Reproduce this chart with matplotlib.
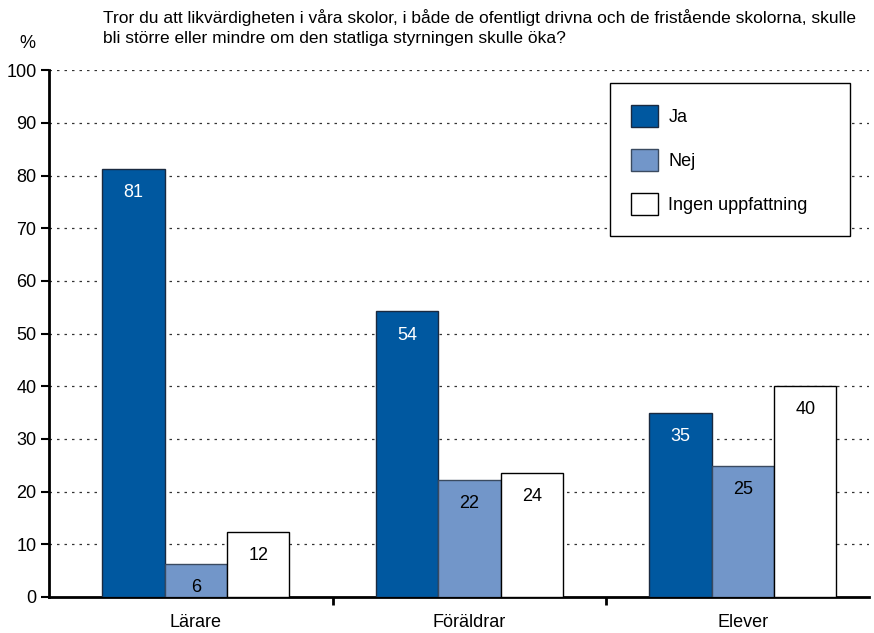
import matplotlib
matplotlib.use("Agg")
import matplotlib.pyplot as plt
import numpy as np

# data
categories = ["Lärare", "Föräldrar", "Elever"]
series_names = ["Ja", "Nej", "Ingen uppfattning"]
ja = [81.3, 54.2, 35.0]
nej = [6.3, 22.2, 24.9]
ingen = [12.3, 23.6, 40.1]
yticks = list(range(0, 101, 10))
title = ("Tror du att likvärdigheten i våra skolor, i både de ofentligt drivna och de fristående skolorna, skulle\n"
         "bli större eller mindre om den statliga styrningen skulle öka?")

plt.rcParams['font.family'] = ['Liberation Sans', 'DejaVu Sans']
plt.rcParams['font.size'] = 12

fig = plt.figure(figsize=(8.74, 6.33), dpi=100)
ax = fig.add_axes([0.056, 0.057, 0.938, 0.832])

x = np.arange(len(categories))
w = 0.228
colors = ["#0058a0", "#7296c9", "#ffffff"]
edges = ["#1a2a40", "#3a4a60", "#000000"]
txtcol = ["white", "black", "black"]

for i, vals in enumerate([ja, nej, ingen]):
    bars = ax.bar(x + (i - 1) * w, vals, w, color=colors[i], edgecolor=edges[i],
                  linewidth=1.0, label=series_names[i], zorder=3)
    for b, v in zip(bars, vals):
        ax.text(b.get_x() + b.get_width() / 2, v - 2.9, "%d" % round(v),
                ha="center", va="top", color=txtcol[i], fontsize=13, zorder=4)

ax.set_ylim(0, 100)
ax.set_xlim(-0.537, 2.46)
ax.set_yticks(yticks)
ax.set_xticks(x)
ax.set_xticklabels(categories, fontsize=13)
ax.set_xticks([0.5, 1.5], minor=True)
ax.tick_params(axis="x", which="major", length=0, pad=12)
ax.tick_params(axis="x", which="minor", length=6, width=2, direction="out")
ax.tick_params(axis="y", length=6, width=1.5, direction="out", labelsize=13, pad=3)

for yv in yticks[1:]:
    ax.axhline(yv, color="#333333", linewidth=0.9, linestyle=(0, (2, 4)), zorder=1)

for s in ["top", "right"]:
    ax.spines[s].set_visible(False)
ax.spines["left"].set_linewidth(2)
ax.spines["bottom"].set_linewidth(2)

leg = ax.legend(loc="upper left", bbox_to_anchor=(0.684, 0.975, 0.293, 0.0), mode="expand",
                frameon=True, fancybox=False,
                edgecolor="black", framealpha=1, fontsize=13,
                handlelength=1.45, handleheight=1.45, labelspacing=1.25,
                borderpad=1.2, handletextpad=0.6, borderaxespad=0)
leg.get_frame().set_linewidth(1.0)
leg.set_zorder(5)

fig.text(0.118, 0.985, title, fontsize=12.5, ha="left", va="top", linespacing=1.4)
fig.text(0.022, 0.918, "%", fontsize=13, ha="left", va="bottom")

fig.savefig("out.png", dpi=100)
